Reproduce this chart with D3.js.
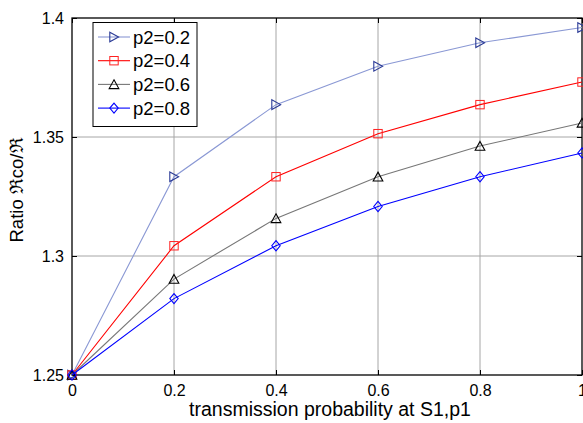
<!DOCTYPE html>
<html><head><meta charset="utf-8">
<script src="https://cdn.jsdelivr.net/npm/d3@7"></script>
<style>body{margin:0;background:#fff}svg{display:block;font-family:"Liberation Sans",Arial,sans-serif}</style>
</head><body><div id="c"></div>
<script>
const xValues = [0, 0.2, 0.4, 0.6, 0.8, 1];
const seriesNames = ["p2=0.2", "p2=0.4", "p2=0.6", "p2=0.8"];
const p2_02 = [1.25, 1.3333, 1.3636, 1.3797, 1.3896, 1.3960];
const p2_04 = [1.25, 1.3043, 1.3333, 1.3514, 1.3636, 1.3731];
const p2_06 = [1.25, 1.2903, 1.3158, 1.3333, 1.3462, 1.3559];
const p2_08 = [1.25, 1.2821, 1.3043, 1.3208, 1.3333, 1.3433];
const xTicks = [0, 0.2, 0.4, 0.6, 0.8, 1];
const yTicks = [1.25, 1.3, 1.35, 1.4];
const xLabel = "transmission probability at S1,p1";
const yLabel = "Ratio \u211Cco/\u211C";

const styles = [
  {line:"#8a98d4", mark:"#2a3a96", shape:"tri-right"},
  {line:"#ff0000", mark:"#ff2020", shape:"square"},
  {line:"#777777", mark:"#000000", shape:"tri-up"},
  {line:"#0000ff", mark:"#0000ff", shape:"diamond"}
];
const allSeries = [p2_02, p2_04, p2_06, p2_08];

const W = 583, H = 423;
const L = 72, R = 582, T = 18, B = 375;
const svg = d3.select("#c").append("svg").attr("width", W).attr("height", H);
const x = d3.scaleLinear().domain([0, 1]).range([L, R]);
const y = d3.scaleLinear().domain([1.25, 1.4]).range([B, T]);

// grid
const g = svg.append("g");
g.selectAll(".gx").data(xTicks.slice(1, -1)).enter().append("line")
  .attr("x1", d => x(d)).attr("x2", d => x(d)).attr("y1", T).attr("y2", B)
  .attr("stroke", "#a6a6a6").attr("stroke-width", 1);
g.selectAll(".gy").data(yTicks.slice(1, -1)).enter().append("line")
  .attr("y1", d => y(d)).attr("y2", d => y(d)).attr("x1", L).attr("x2", R)
  .attr("stroke", "#a6a6a6").attr("stroke-width", 1);

// axes with inward ticks
const ax = d3.axisBottom(x).tickValues(xTicks).tickFormat(d3.format("")).tickSizeInner(-5).tickSizeOuter(0).tickPadding(10);
const axT = d3.axisTop(x).tickValues(xTicks).tickFormat("").tickSizeInner(-5).tickSizeOuter(0);
const ay = d3.axisLeft(y).tickValues(yTicks).tickFormat(d3.format("")).tickSizeInner(-5).tickSizeOuter(0).tickPadding(8);
const ayR = d3.axisRight(y).tickValues(yTicks).tickFormat("").tickSizeInner(-5).tickSizeOuter(0);
function styleAxis(sel){ sel.select(".domain").remove(); sel.selectAll("line").attr("stroke","#000"); sel.selectAll("text").attr("fill","#000").attr("font-size",16).attr("font-family","Liberation Sans, Arial, sans-serif"); }
svg.append("g").attr("transform", `translate(0,${B})`).call(ax).call(styleAxis);
svg.append("g").attr("transform", `translate(0,${T})`).call(axT).call(styleAxis);
svg.append("g").attr("transform", `translate(${L},0)`).call(ay).call(styleAxis);
svg.append("g").attr("transform", `translate(${R},0)`).call(ayR).call(styleAxis);

// box
svg.append("rect").attr("x", L).attr("y", T).attr("width", R - L).attr("height", B - T)
  .attr("fill", "none").attr("stroke", "#000").attr("stroke-width", 1.3);

function marker(sel, shape, color) {
  const s = 4.2;
  if (shape === "square") {
    sel.append("rect").attr("x", -s).attr("y", -s).attr("width", 2*s).attr("height", 2*s)
      .attr("fill", "none").attr("stroke", color).attr("stroke-width", 1);
  } else {
    let pts;
    if (shape === "tri-right") pts = [[-s, -s*1.15], [s*1.1, 0], [-s, s*1.15]];
    else if (shape === "tri-up") pts = [[0, -s*1.1], [s*1.15, s], [-s*1.15, s]];
    else pts = [[0, -s*1.2], [s*1.0, 0], [0, s*1.2], [-s*1.0, 0]];
    sel.append("polygon").attr("points", pts.map(p => p.join(",")).join(" "))
      .attr("fill", "none").attr("stroke", color).attr("stroke-width", 1.1);
  }
}

const line = d3.line().x((d, i) => x(xValues[i])).y(d => y(d));
allSeries.forEach((vals, k) => {
  const st = styles[k];
  svg.append("path").attr("d", line(vals)).attr("fill", "none")
    .attr("stroke", st.line).attr("stroke-width", 1.1);
  vals.forEach((v, i) => {
    const m = svg.append("g").attr("transform", `translate(${x(xValues[i])},${y(v)})`);
    marker(m, st.shape, st.mark);
  });
});

// labels
svg.append("text").attr("x", 330).attr("y", 416).attr("text-anchor", "middle")
  .attr("font-size", 19.5).attr("fill", "#000").text(xLabel);
svg.append("text").attr("transform", `translate(23,190) rotate(-90)`)
  .attr("text-anchor", "middle").attr("font-size", 18.5).attr("fill", "#000").text(yLabel);

// legend
const lg = svg.append("g");
lg.append("rect").attr("x", 93).attr("y", 22.5).attr("width", 104).attr("height", 104)
  .attr("fill", "#fff").attr("stroke", "#000").attr("stroke-width", 1);
seriesNames.forEach((name, k) => {
  const yy = 37 + k * 23.7;
  const st = styles[k];
  lg.append("line").attr("x1", 98).attr("x2", 130).attr("y1", yy).attr("y2", yy)
    .attr("stroke", st.line).attr("stroke-width", 1.1);
  const m = lg.append("g").attr("transform", `translate(114,${yy})`);
  marker(m, st.shape, st.mark);
  lg.append("text").attr("x", 133).attr("y", yy + 6.5).attr("font-size", 18.5).attr("fill", "#000").text(name);
});
</script></body></html>
